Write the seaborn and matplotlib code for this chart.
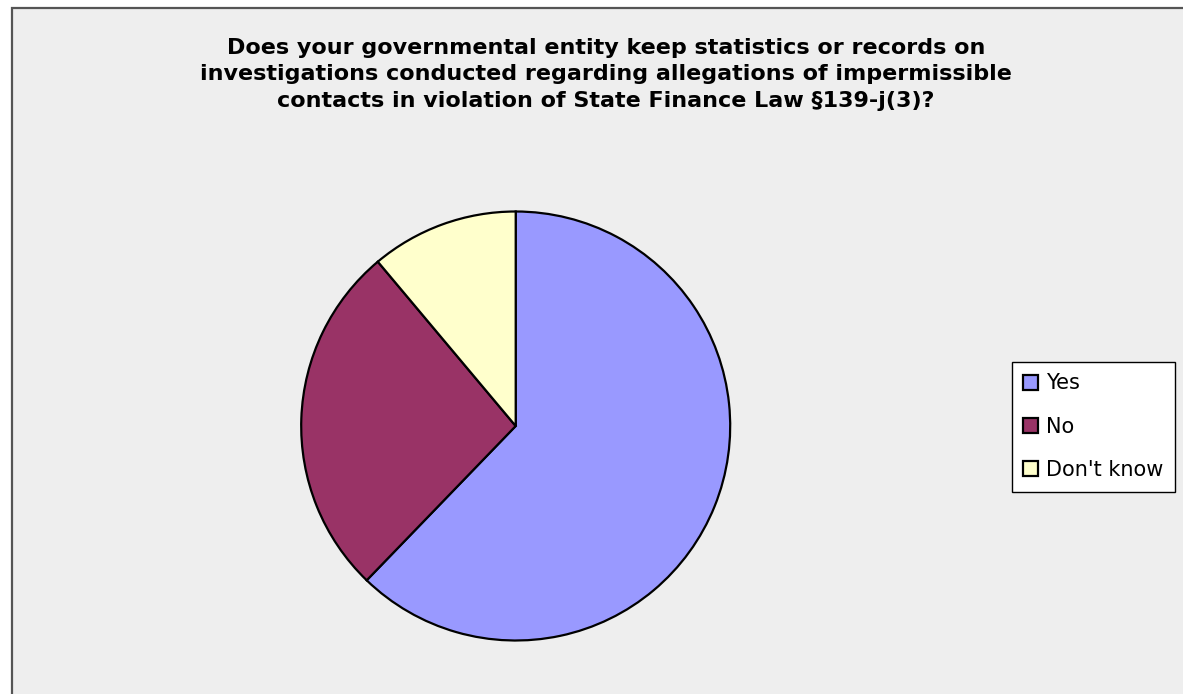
import matplotlib
matplotlib.use("Agg")
import matplotlib.pyplot as plt
from matplotlib.patches import Rectangle, Patch
import seaborn as sns

# survey answers (counts)
answers = ["Yes", "No", "Don't know"]
counts = [28, 12, 5]
colors = ["#9999FF", "#993366", "#FFFFCC"]
title = ("Does your governmental entity keep statistics or records on\n"
         "investigations conducted regarding allegations of impermissible\n"
         "contacts in violation of State Finance Law §139-j(3)?")

sns.set_theme(style="white")
plt.rcParams["font.family"] = ["DejaVu Sans"]

W, H = 1183, 694
fig = plt.figure(figsize=(W / 100, H / 100), dpi=100, facecolor="white")

# chart area background with dark frame on top/left
fig.patches.append(Rectangle((11.5 / W, -0.05), 1.1, 1.05 - 7.5 / H, transform=fig.transFigure,
                             facecolor="#EEEEEE", edgecolor="#555555", linewidth=1.6, zorder=-10))

cx, cy, r = 515.7, 426, 214.5
ax = fig.add_axes([(cx - r) / W, (H - cy - r) / H, 2 * r / W, 2 * r / H])
ax.patch.set_visible(False)
ax.pie(counts, colors=colors, startangle=90, counterclock=False, radius=1,
       wedgeprops=dict(edgecolor="black", linewidth=1.6))
ax.set_xlim(-1.0, 1.0)
ax.set_ylim(-1.0, 1.0)
ax.set_aspect("equal")
ax.axis("off")

fig.text(606 / W, 1 - 74.5 / H, title, ha="center", va="center", fontsize=16,
         fontweight="bold", linespacing=1.42, color="black")

handles = [Patch(facecolor=c, edgecolor="black", linewidth=1.6) for c in colors]
leg = fig.legend(handles, answers, loc="upper left", bbox_to_anchor=(1012 / W, 1 - 362 / H),
                 frameon=True, fontsize=15, handlelength=0.72, handleheight=0.72,
                 handletextpad=0.35, labelspacing=1.12, borderpad=0.55, fancybox=False,
                 borderaxespad=0, framealpha=1)
leg.get_frame().set_edgecolor("black")
leg.get_frame().set_facecolor("white")
leg.get_frame().set_linewidth(1.0)
for t in leg.get_texts():
    t.set_color("black")

fig.savefig("out.png", dpi=100, facecolor="white")
